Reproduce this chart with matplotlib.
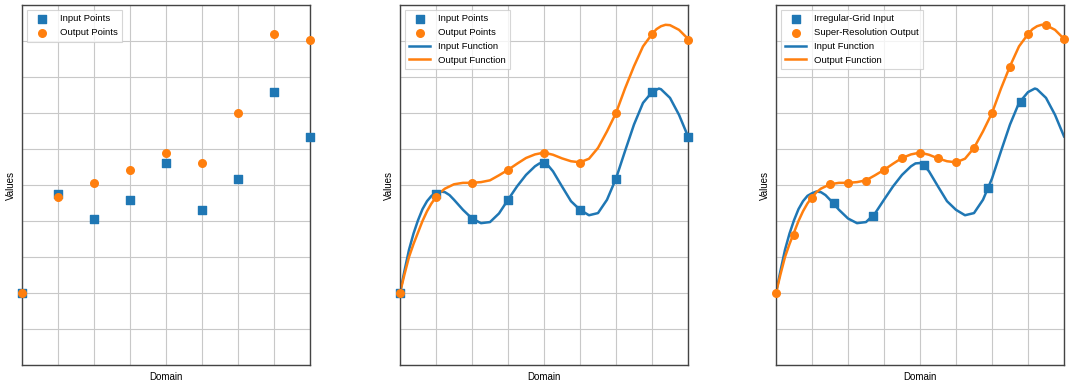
import matplotlib
matplotlib.use("Agg")
import matplotlib.pyplot as plt

plt.rcParams['font.family'] = ['Liberation Sans', 'DejaVu Sans']

# regular grid points (panels 1 and 2)
grid_x = [0, 1, 2, 3, 4, 5, 6, 7, 8]
input_pts = [0.0, 2.75, 2.06, 2.58, 3.6, 2.3, 3.17, 5.57, 4.34]
output_pts = [0.0, 2.66, 3.05, 3.42, 3.89, 3.62, 4.99, 7.19, 7.04]

# underlying functions
in_func_x = [0, 0.125, 0.25, 0.375, 0.5, 0.625, 0.75, 0.875, 1, 1.125, 1.25, 1.375, 1.5, 1.75,
             2, 2.25, 2.5, 2.75, 3, 3.25, 3.5, 3.75, 3.875, 4, 4.125, 4.25, 4.5, 4.75, 5, 5.25,
             5.5, 5.75, 6, 6.25, 6.5, 6.75, 7, 7.19, 7.25, 7.5, 7.75, 8]
in_func_y = [0.0, 0.62, 1.2, 1.65, 2.02, 2.33, 2.55, 2.7, 2.77, 2.82, 2.8, 2.72, 2.59, 2.31,
             2.07, 1.94, 1.97, 2.21, 2.59, 2.96, 3.28, 3.52, 3.6, 3.61, 3.53, 3.38, 2.96, 2.55,
             2.31, 2.16, 2.22, 2.59, 3.18, 3.94, 4.68, 5.28, 5.58, 5.68, 5.66, 5.42, 4.95, 4.35]
out_func_x = [0, 0.125, 0.25, 0.375, 0.5, 0.625, 0.75, 0.875, 1, 1.125, 1.25, 1.5, 1.75, 2,
              2.25, 2.5, 2.75, 3, 3.25, 3.5, 3.75, 4, 4.25, 4.5, 4.75, 5, 5.25, 5.5, 5.75, 6,
              6.25, 6.5, 6.75, 7, 7.125, 7.25, 7.375, 7.5, 7.75, 8]
out_func_y = [0.0, 0.52, 1.0, 1.36, 1.68, 2.0, 2.27, 2.49, 2.66, 2.8, 2.9, 3.02, 3.06, 3.06,
              3.08, 3.13, 3.27, 3.42, 3.59, 3.75, 3.85, 3.9, 3.84, 3.74, 3.66, 3.63, 3.73, 4.03,
              4.49, 5.0, 5.68, 6.3, 6.85, 7.19, 7.33, 7.41, 7.45, 7.44, 7.31, 7.06]

# irregular input / super-resolution output (panel 3)
irr_x = [1.6, 2.7, 4.1, 5.88, 6.8]
irr_y = [2.49, 2.15, 3.55, 2.91, 5.31]
sr_x = [0, 0.5, 1, 1.5, 2, 2.5, 3, 3.5, 4, 4.5, 5, 5.5, 6, 6.5, 7, 7.5, 8]
sr_y = [0.0, 1.6, 2.65, 3.03, 3.06, 3.12, 3.42, 3.76, 3.89, 3.74, 3.63, 4.02, 4.99, 6.27,
        7.2, 7.44, 7.05]

BLUE = '#1f77b4'
ORANGE = '#ff7f0e'


def style(ax):
    ax.set_xlim(0, 8)
    ax.set_ylim(-2, 8)
    ax.set_xticks(range(0, 9))
    ax.set_yticks(range(-2, 9))
    ax.set_xticklabels([])
    ax.set_yticklabels([])
    ax.tick_params(length=0, pad=0)
    ax.grid(True, color='#c8c8c8', linewidth=0.8)
    ax.set_axisbelow(True)
    for sp in ax.spines.values():
        sp.set_color('#444444')
        sp.set_linewidth(1.0)
    ax.set_xlabel('Domain', fontsize=7, labelpad=5)
    ax.set_ylabel('Values', fontsize=7, labelpad=4)


fig = plt.figure(figsize=(10.8, 3.85), dpi=100)
lefts = [22 / 1080, 400 / 1080, 776 / 1080]
axes = [fig.add_axes([l, 20 / 385, 288 / 1080, 360 / 385]) for l in lefts]

ax1, ax2, ax3 = axes
for ax in axes:
    style(ax)

ms = 30
lw = 1.8
ax1.scatter(grid_x, input_pts, marker='s', s=ms, color=BLUE, label='Input Points', zorder=3, clip_on=False)
ax1.scatter(grid_x, output_pts, marker='o', s=ms, color=ORANGE, label='Output Points', zorder=3, clip_on=False)

ax2.scatter(grid_x, input_pts, marker='s', s=ms, color=BLUE, label='Input Points', zorder=3, clip_on=False)
ax2.scatter(grid_x, output_pts, marker='o', s=ms, color=ORANGE, label='Output Points', zorder=3, clip_on=False)
ax2.plot(in_func_x, in_func_y, color=BLUE, lw=lw, solid_joinstyle='round', label='Input Function')
ax2.plot(out_func_x, out_func_y, color=ORANGE, lw=lw, solid_joinstyle='round', label='Output Function')

ax3.scatter(irr_x, irr_y, marker='s', s=ms, color=BLUE, label='Irregular-Grid Input', zorder=3, clip_on=False)
ax3.scatter(sr_x, sr_y, marker='o', s=ms, color=ORANGE, label='Super-Resolution Output', zorder=3, clip_on=False)
ax3.plot(in_func_x, in_func_y, color=BLUE, lw=lw, solid_joinstyle='round', label='Input Function')
ax3.plot(out_func_x, out_func_y, color=ORANGE, lw=lw, solid_joinstyle='round', label='Output Function')

for ax in axes:
    leg = ax.legend(loc='upper left', fontsize=6.8, frameon=True, fancybox=False,
                    borderpad=0.5, handlelength=2.2, labelspacing=0.5)
    leg.get_frame().set_edgecolor('#cccccc')
    leg.get_frame().set_linewidth(0.8)

fig.savefig('out.png', dpi=100)
